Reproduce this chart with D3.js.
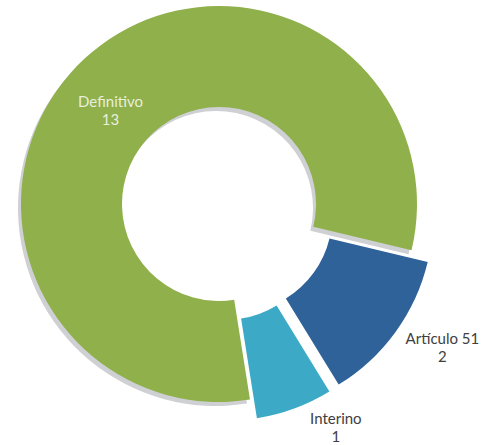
<!DOCTYPE html>
<html>
<head>
<meta charset="utf-8">
<script src="https://cdn.jsdelivr.net/npm/d3@7"></script>
<style>
  body { margin: 0; background: #fff; }
  svg text { font-family: Lato, "Noto Sans", sans-serif; }
</style>
</head>
<body>
<script>
var width = 485,
    height = 445,
    cx = 219,
    cy = 204,
    outerR = 198,
    innerR = 97,
    explode = 20;

// data
var categories = ["Definitivo", "Artículo 51", "Interino"];
var values = [13, 2, 1];
var colors = ["#8fb04b", "#2e6299", "#3caac6"];
var exploded = [0, 1, 1];

// label layout (radius from slice centre, fill, nudge)
var labelRadius = [148, 245, 228];
var labelFill = ["#e8eedc", "#404040", "#404040"];
var labelNudge = [[-8, 15], [9, -13], [31, -10]];

var rad = Math.PI / 180;

var pie = d3.pie()
    .sort(null)
    .value(function(d) { return d; })
    .startAngle(171 * rad)
    .endAngle(531 * rad);

var arc = d3.arc()
    .innerRadius(innerR)
    .outerRadius(outerR);

var arcs = pie(values);

var svg = d3.select("body").append("svg")
    .attr("width", width)
    .attr("height", height);

var g = svg.append("g")
    .attr("transform", "translate(" + cx + "," + cy + ")");

function offset(d, i) {
  var a = (d.startAngle + d.endAngle) / 2,
      k = exploded[i] * explode;
  return [Math.sin(a) * k, -Math.cos(a) * k];
}

// shadow under the big slice
g.append("path")
    .attr("d", arc(arcs[0]))
    .attr("transform", "translate(-3,4)")
    .attr("fill", "#cfd0d4");

var slice = g.selectAll("g.slice")
  .data(arcs)
  .enter().append("g")
    .attr("class", "slice")
    .attr("transform", function(d, i) {
      var o = offset(d, i);
      return "translate(" + o[0] + "," + o[1] + ")";
    });

slice.append("path")
    .attr("d", arc)
    .attr("fill", function(d, i) { return colors[i]; });

var label = slice.append("text")
    .attr("text-anchor", "middle")
    .attr("font-size", 15)
    .attr("fill", function(d, i) { return labelFill[i]; })
    .attr("transform", function(d, i) {
      var a = (d.startAngle + d.endAngle) / 2,
          r = labelRadius[i];
      var x = Math.sin(a) * r + labelNudge[i][0],
          y = -Math.cos(a) * r + labelNudge[i][1];
      return "translate(" + x + "," + y + ")";
    });

label.append("tspan")
    .attr("x", 0)
    .attr("dy", -3)
    .text(function(d, i) { return categories[i]; });

label.append("tspan")
    .attr("x", 0)
    .attr("dy", 18)
    .text(function(d) { return d.data; });
</script>
</body>
</html>
